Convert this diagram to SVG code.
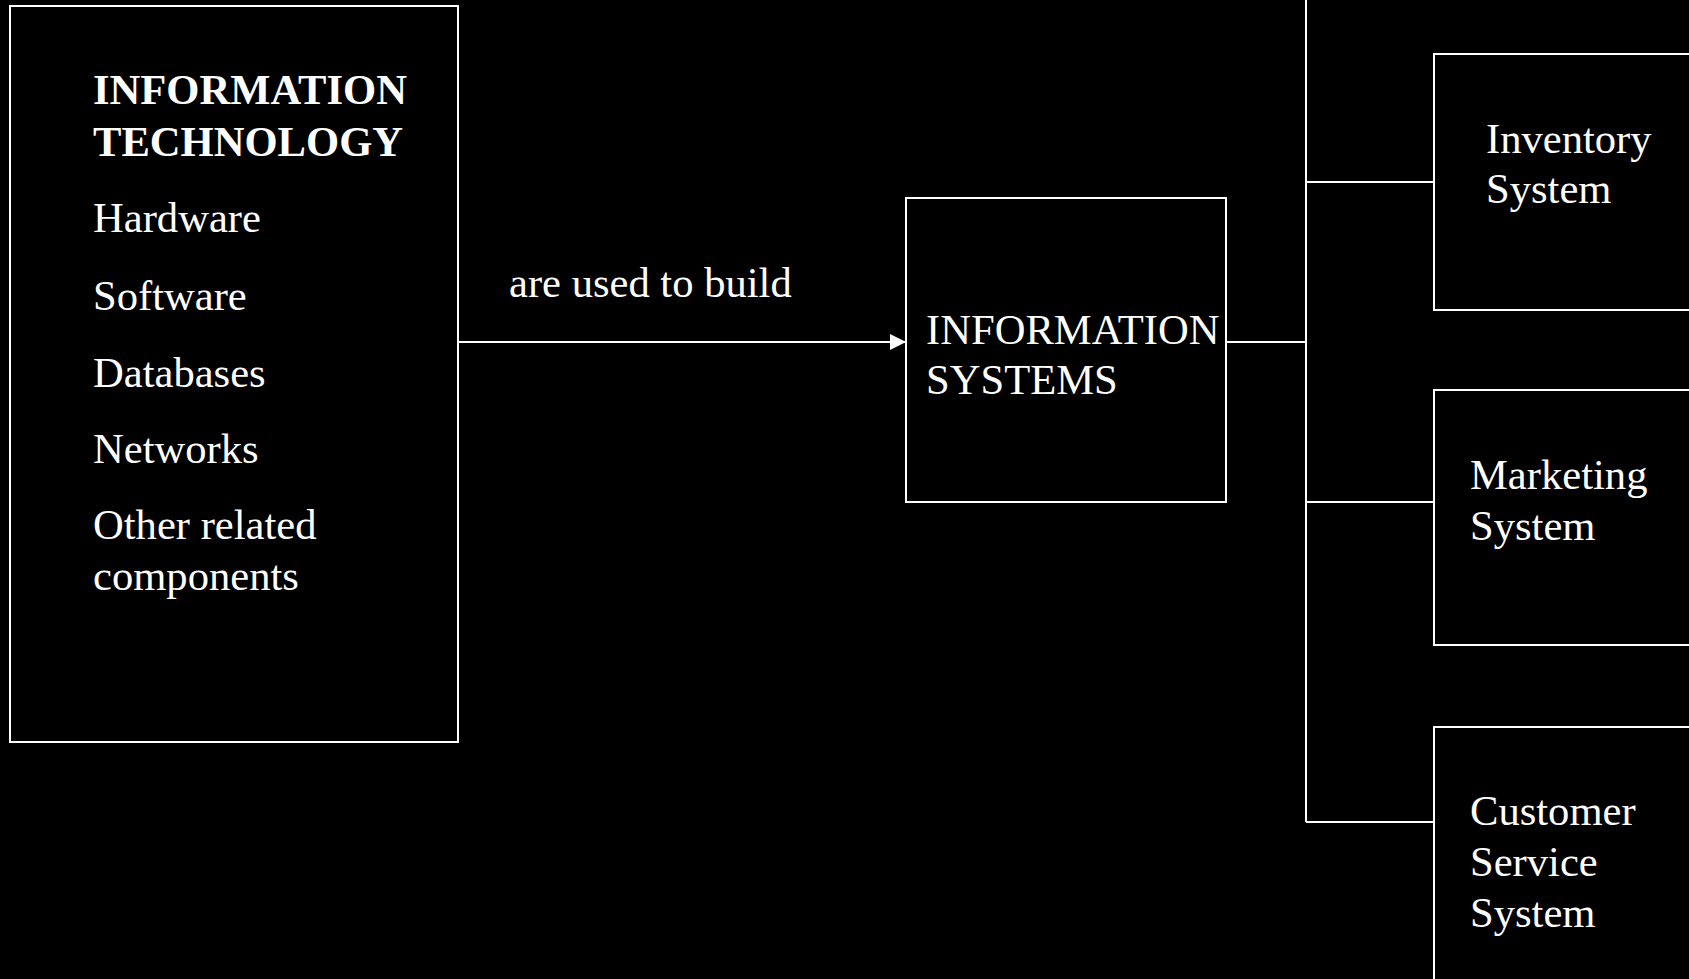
<svg xmlns="http://www.w3.org/2000/svg" width="1689" height="979" viewBox="0 0 1689 979">
<defs>
<style>
.box{fill:#000;stroke:#fff;stroke-width:2}
.ln{fill:none;stroke:#fff;stroke-width:2}
text{font-family:"Liberation Serif","Times New Roman",serif;font-size:42.6px;fill:#fff}
.b{font-weight:bold}
</style>
<marker id="arr" markerWidth="16" markerHeight="16" refX="15" refY="8" orient="auto" markerUnits="userSpaceOnUse">
<path d="M0,0 L16,8 L0,16 Z" fill="#fff"/>
</marker>
</defs>
<rect width="1689" height="979" fill="#000"/>
<g id="connectors">
<line class="ln" x1="458" y1="342" x2="905" y2="342" marker-end="url(#arr)"/>
<text x="509" y="297">are used to build</text>
<polyline class="ln" points="1226,342 1306,342"/>
<line class="ln" x1="1306" y1="0" x2="1306" y2="822"/>
<line class="ln" x1="1306" y1="182" x2="1434" y2="182"/>
<line class="ln" x1="1306" y1="502" x2="1434" y2="502"/>
<line class="ln" x1="1306" y1="822" x2="1434" y2="822"/>
</g>
<g id="it">
<rect class="box" x="10" y="6" width="448" height="736"/>
<text class="b" x="93" y="104">INFORMATION</text>
<text class="b" x="93" y="156">TECHNOLOGY</text>
<text x="93" y="232">Hardware</text>
<text x="93" y="310">Software</text>
<text x="93" y="387">Databases</text>
<text x="93" y="463">Networks</text>
<text x="93" y="539">Other related</text>
<text x="93" y="590">components</text>
</g>
<g id="is">
<rect class="box" x="906" y="198" width="320" height="304"/>
<text x="926" y="344">INFORMATION</text>
<text x="926" y="394">SYSTEMS</text>
</g>
<g id="inventory">
<rect class="box" x="1434" y="54" width="270" height="256"/>
<text x="1486" y="153">Inventory</text>
<text x="1486" y="203">System</text>
</g>
<g id="marketing">
<rect class="box" x="1434" y="390" width="270" height="255"/>
<text x="1470" y="489">Marketing</text>
<text x="1470" y="540">System</text>
</g>
<g id="customer">
<rect class="box" x="1434" y="727" width="270" height="270"/>
<text x="1470" y="825">Customer</text>
<text x="1470" y="876">Service</text>
<text x="1470" y="927">System</text>
</g>
</svg>
